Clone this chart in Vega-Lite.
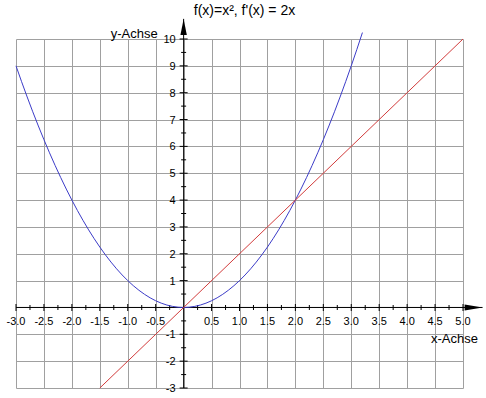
{
  "$schema": "https://vega.github.io/schema/vega-lite/v6.json",
  "width": 447,
  "height": 349,
  "autosize": {"type": "none"},
  "padding": {"left": 16, "top": 39, "right": 23, "bottom": 10},
  "background": "white",
  "config": {"view": {"stroke": null}, "font": "Liberation Sans"},
  "title": {"text": "f(x)=x², f'(x) = 2x", "fontSize": 14, "fontWeight": "normal", "font": "Liberation Sans", "color": "black", "offset": 0, "dx": 5},
  "encoding": {
    "x": {"field": "x", "type": "quantitative", "scale": {"domain": [-3, 5], "nice": false, "zero": false},
      "axis": {"values": [-3,-2.5,-2,-1.5,-1,-0.5,0,0.5,1,1.5,2,2.5,3,3.5,4,4.5,5], "grid": true, "domain": false, "ticks": false, "labels": false, "title": null, "gridColor": "#a0a0a0", "gridOpacity": 1, "gridWidth": 1}},
    "y": {"field": "y", "type": "quantitative", "scale": {"domain": [-3, 10], "nice": false, "zero": false},
      "axis": {"values": [-3,-2,-1,0,1,2,3,4,5,6,7,8,9,10], "grid": true, "domain": false, "ticks": false, "labels": false, "title": null, "gridColor": "#a0a0a0", "gridOpacity": 1, "gridWidth": 1}}
  },
  "layer": [
    {
      "data": {"values": [{"x": -3, "x2": 5.35, "y": 0}]},
      "mark": {"type": "rule", "color": "black", "strokeWidth": 1, "clip": false},
      "encoding": {"x2": {"field": "x2"}}
    },
    {
      "data": {"values": [{"x": 0, "y": -3, "y2": 10.75}]},
      "mark": {"type": "rule", "color": "black", "strokeWidth": 1, "clip": false},
      "encoding": {"y2": {"field": "y2"}}
    },
    {
      "data": {"values": [{"x": -3,"y":0},{"x": -2.5,"y":0},{"x": -2,"y":0},{"x": -1.5,"y":0},{"x": -1,"y":0},{"x": -0.5,"y":0},{"x": 0.5,"y":0},{"x": 1,"y":0},{"x": 1.5,"y":0},{"x": 2,"y":0},{"x": 2.5,"y":0},{"x": 3,"y":0},{"x": 3.5,"y":0},{"x": 4,"y":0},{"x": 4.5,"y":0},{"x": 5,"y":0}]},
      "mark": {"type": "tick", "orient": "vertical", "size": 7, "thickness": 1, "color": "black", "opacity": 1}
    },
    {
      "data": {"values": [{"x": -2.75,"y":0},{"x": -2.25,"y":0},{"x": -1.75,"y":0},{"x": -1.25,"y":0},{"x": -0.75,"y":0},{"x": -0.25,"y":0},{"x": 0.25,"y":0},{"x": 0.75,"y":0},{"x": 1.25,"y":0},{"x": 1.75,"y":0},{"x": 2.25,"y":0},{"x": 2.75,"y":0},{"x": 3.25,"y":0},{"x": 3.75,"y":0},{"x": 4.25,"y":0},{"x": 4.75,"y":0}]},
      "mark": {"type": "tick", "orient": "vertical", "size": 5, "thickness": 1, "color": "black", "opacity": 1}
    },
    {
      "data": {"values": [{"x":0,"y":-3},{"x":0,"y":-2},{"x":0,"y":-1},{"x":0,"y":1},{"x":0,"y":2},{"x":0,"y":3},{"x":0,"y":4},{"x":0,"y":5},{"x":0,"y":6},{"x":0,"y":7},{"x":0,"y":8},{"x":0,"y":9},{"x":0,"y":10}]},
      "mark": {"type": "tick", "orient": "horizontal", "size": 8, "thickness": 1, "color": "black", "opacity": 1}
    },
    {
      "data": {"values": [{"x":0,"y":-2.5},{"x":0,"y":-1.5},{"x":0,"y":-0.5},{"x":0,"y":0.5},{"x":0,"y":1.5},{"x":0,"y":2.5},{"x":0,"y":3.5},{"x":0,"y":4.5},{"x":0,"y":5.5},{"x":0,"y":6.5},{"x":0,"y":7.5},{"x":0,"y":8.5},{"x":0,"y":9.5}]},
      "mark": {"type": "tick", "orient": "horizontal", "size": 5, "thickness": 1, "color": "black", "opacity": 1}
    },
    {
      "data": {"values": [{"x": 5.19, "y": 0}]},
      "mark": {"type": "point", "shape": "M-1,-0.33L1,0L-1,0.33Z", "size": 324, "filled": true, "color": "black", "opacity": 1, "clip": false}
    },
    {
      "data": {"values": [{"x": 0, "y": 10.45}]},
      "mark": {"type": "point", "shape": "M0,-1L0.4,1L-0.4,1Z", "size": 256, "filled": true, "color": "black", "opacity": 1, "clip": false}
    },
    {
      "data": {"values": [
        {"x":-3,"y":9},{"x":-2.9,"y":8.41},{"x":-2.8,"y":7.84},{"x":-2.7,"y":7.29},{"x":-2.6,"y":6.76},{"x":-2.5,"y":6.25},{"x":-2.4,"y":5.76},{"x":-2.3,"y":5.29},{"x":-2.2,"y":4.84},{"x":-2.1,"y":4.41},
        {"x":-2,"y":4},{"x":-1.9,"y":3.61},{"x":-1.8,"y":3.24},{"x":-1.7,"y":2.89},{"x":-1.6,"y":2.56},{"x":-1.5,"y":2.25},{"x":-1.4,"y":1.96},{"x":-1.3,"y":1.69},{"x":-1.2,"y":1.44},{"x":-1.1,"y":1.21},
        {"x":-1,"y":1},{"x":-0.9,"y":0.81},{"x":-0.8,"y":0.64},{"x":-0.7,"y":0.49},{"x":-0.6,"y":0.36},{"x":-0.5,"y":0.25},{"x":-0.4,"y":0.16},{"x":-0.3,"y":0.09},{"x":-0.2,"y":0.04},{"x":-0.1,"y":0.01},
        {"x":0,"y":0},{"x":0.1,"y":0.01},{"x":0.2,"y":0.04},{"x":0.3,"y":0.09},{"x":0.4,"y":0.16},{"x":0.5,"y":0.25},{"x":0.6,"y":0.36},{"x":0.7,"y":0.49},{"x":0.8,"y":0.64},{"x":0.9,"y":0.81},
        {"x":1,"y":1},{"x":1.1,"y":1.21},{"x":1.2,"y":1.44},{"x":1.3,"y":1.69},{"x":1.4,"y":1.96},{"x":1.5,"y":2.25},{"x":1.6,"y":2.56},{"x":1.7,"y":2.89},{"x":1.8,"y":3.24},{"x":1.9,"y":3.61},
        {"x":2,"y":4},{"x":2.1,"y":4.41},{"x":2.2,"y":4.84},{"x":2.3,"y":5.29},{"x":2.4,"y":5.76},{"x":2.5,"y":6.25},{"x":2.6,"y":6.76},{"x":2.7,"y":7.29},{"x":2.8,"y":7.84},{"x":2.9,"y":8.41},
        {"x":3,"y":9},{"x":3.1,"y":9.61},{"x":3.2,"y":10.24}
      ]},
      "mark": {"type": "line", "color": "#3c3cc8", "strokeWidth": 1, "clip": false}
    },
    {
      "data": {"values": [{"x": -1.5, "y": -3}, {"x": 5, "y": 10}]},
      "mark": {"type": "line", "color": "#d23c3c", "strokeWidth": 1, "clip": false}
    },
    {
      "data": {"values": [{"x":-3,"y":0,"label":"-3.0"},{"x":-2.5,"y":0,"label":"-2.5"},{"x":-2,"y":0,"label":"-2.0"},{"x":-1.5,"y":0,"label":"-1.5"},{"x":-1,"y":0,"label":"-1.0"},{"x":-0.5,"y":0,"label":"-0.5"},{"x":0.5,"y":0,"label":"0.5"},{"x":1,"y":0,"label":"1.0"},{"x":1.5,"y":0,"label":"1.5"},{"x":2,"y":0,"label":"2.0"},{"x":2.5,"y":0,"label":"2.5"},{"x":3,"y":0,"label":"3.0"},{"x":3.5,"y":0,"label":"3.5"},{"x":4,"y":0,"label":"4.0"},{"x":4.5,"y":0,"label":"4.5"},{"x":5,"y":0,"label":"5.0"}]},
      "mark": {"type": "text", "align": "center", "baseline": "top", "dy": 9, "fontSize": 11, "color": "black", "clip": false},
      "encoding": {"text": {"field": "label"}}
    },
    {
      "data": {"values": [{"x":0,"y":-3,"label":"-3"},{"x":0,"y":-2,"label":"-2"},{"x":0,"y":-1,"label":"-1"},{"x":0,"y":1,"label":"1"},{"x":0,"y":2,"label":"2"},{"x":0,"y":3,"label":"3"},{"x":0,"y":4,"label":"4"},{"x":0,"y":5,"label":"5"},{"x":0,"y":6,"label":"6"},{"x":0,"y":7,"label":"7"},{"x":0,"y":8,"label":"8"},{"x":0,"y":9,"label":"9"},{"x":0,"y":10,"label":"10"}]},
      "mark": {"type": "text", "align": "right", "baseline": "middle", "dx": -8, "dy": 1, "fontSize": 11, "color": "black", "clip": false},
      "encoding": {"text": {"field": "label"}}
    },
    {
      "data": {"values": [{"x": 0, "y": 10, "label": "y-Achse"}]},
      "mark": {"type": "text", "align": "right", "baseline": "alphabetic", "dx": -26, "dy": -1, "fontSize": 13, "color": "black", "clip": false},
      "encoding": {"text": {"field": "label"}}
    },
    {
      "data": {"values": [{"x": 5, "y": 0, "label": "x-Achse"}]},
      "mark": {"type": "text", "align": "right", "baseline": "alphabetic", "dx": 15, "dy": 36, "fontSize": 13, "color": "black", "clip": false},
      "encoding": {"text": {"field": "label"}}
    }
  ]
}
